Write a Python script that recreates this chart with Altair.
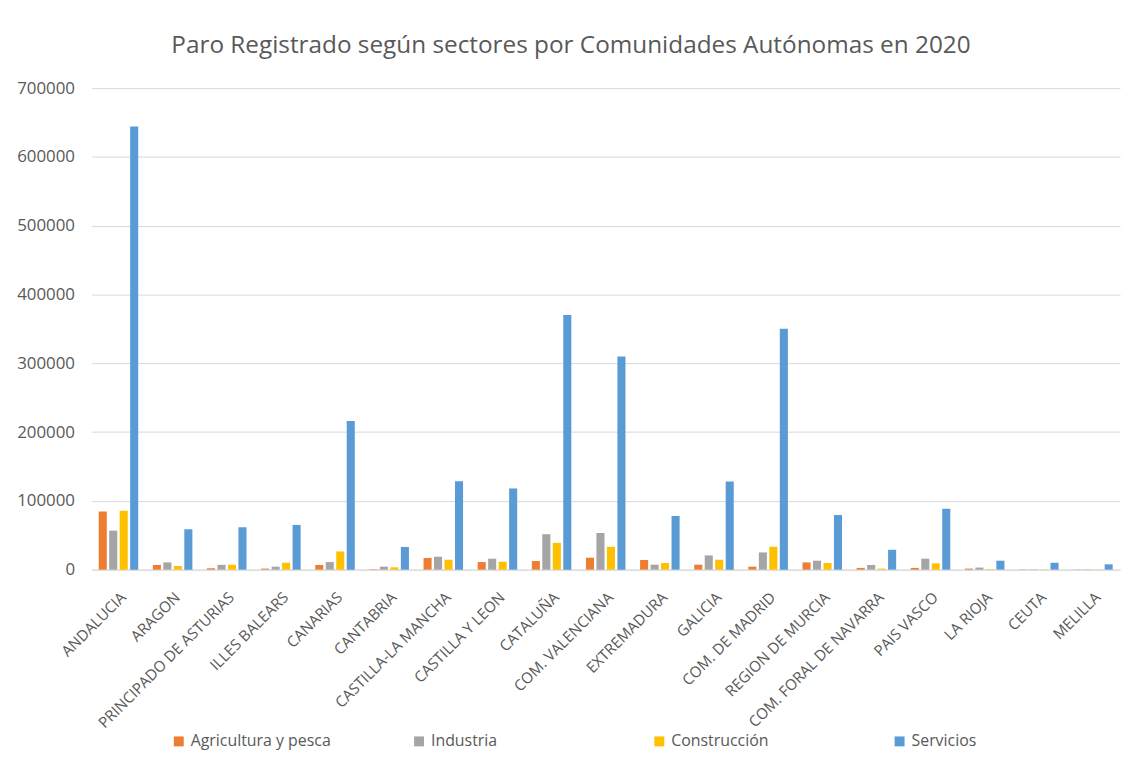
import altair as alt
import pandas as pd

regiones = ["ANDALUCIA", "ARAGON", "PRINCIPADO DE ASTURIAS", "ILLES BALEARS", "CANARIAS",
            "CANTABRIA", "CASTILLA-LA MANCHA", "CASTILLA Y LEON", "CATALUÑA",
            "COM. VALENCIANA", "EXTREMADURA", "GALICIA", "COM. DE MADRID",
            "REGION DE MURCIA", "COM. FORAL DE NAVARRA", "PAIS VASCO", "LA RIOJA",
            "CEUTA", "MELILLA"]
sectores = ["Agricultura y pesca", "Industria", "Construcción", "Servicios"]

agricultura = [84500, 6800, 2000, 1500, 6800, 600, 16900, 11000, 12500, 17300, 14000, 7200,
               4300, 10500, 2500, 2500, 1500, 400, 300]
industria = [56700, 10500, 7000, 4300, 11000, 4300, 18800, 15900, 51500, 53400, 7200, 20700,
             25000, 13000, 6800, 15900, 3000, 500, 400]
construccion = [85600, 5300, 7000, 10000, 26400, 3400, 14400, 11500, 39000, 33200, 9600, 14400,
                33200, 9600, 1500, 9100, 800, 400, 300]
servicios = [644000, 58700, 61600, 65000, 216000, 33000, 128400, 118000, 370000, 310000, 78000,
             128000, 350000, 79400, 28900, 88500, 13000, 10000, 7700]

colores = ["#ED7D31", "#A5A5A5", "#FFC000", "#5B9BD5"]

rows = []
for serie, vals in zip(sectores, [agricultura, industria, construccion, servicios]):
    for r, v in zip(regiones, vals):
        rows.append({"Region": r, "Sector": serie, "Paro": v})
df = pd.DataFrame(rows)

FONT = "Open Sans"
GREY = "#595959"

chart = alt.Chart(df).mark_bar().encode(
    x=alt.X("Region:N", sort=regiones,
            scale=alt.Scale(paddingInner=0.27, paddingOuter=0.135),
            axis=alt.Axis(title=None, labelAngle=-45, labelFontSize=15.2, labelColor=GREY,
                          labelFont=FONT, ticks=False, domainColor="#d9d9d9",
                          labelPadding=20, labelLimit=300)),
    xOffset=alt.XOffset("Sector:N", sort=sectores,
                        scale=alt.Scale(paddingInner=0.23, paddingOuter=0)),
    y=alt.Y("Paro:Q", scale=alt.Scale(domain=[0, 700000]),
            axis=alt.Axis(title=None, values=list(range(0, 700001, 100000)), format="d",
                          labelFontSize=17, labelColor=GREY, labelFont=FONT, ticks=False,
                          domain=False, gridColor="#d9d9d9", labelPadding=17)),
    color=alt.Color("Sector:N", sort=sectores,
                    scale=alt.Scale(domain=sectores, range=colores),
                    legend=alt.Legend(title=None, orient="none", legendX=80, legendY=650,
                                      direction="horizontal", columns=4, gridAlign="all",
                                      columnPadding=80, symbolType="square", symbolSize=100,
                                      labelFontSize=16, labelColor=GREY, labelFont=FONT,
                                      symbolStrokeWidth=0)),
).properties(
    width=1036, height=485,
    title=alt.TitleParams("Paro Registrado según sectores por Comunidades Autónomas en 2020",
                          fontSize=24.5, font=FONT, fontWeight="normal", color=GREY,
                          anchor="middle", dx=-35, offset=21),
    autosize=alt.AutoSizeParams(type="none"),
    padding={"left": 84, "top": 78, "right": 3, "bottom": 180},
).configure_view(stroke=None)

chart.save("out.html", embed_options={"renderer": "svg", "actions": False})
